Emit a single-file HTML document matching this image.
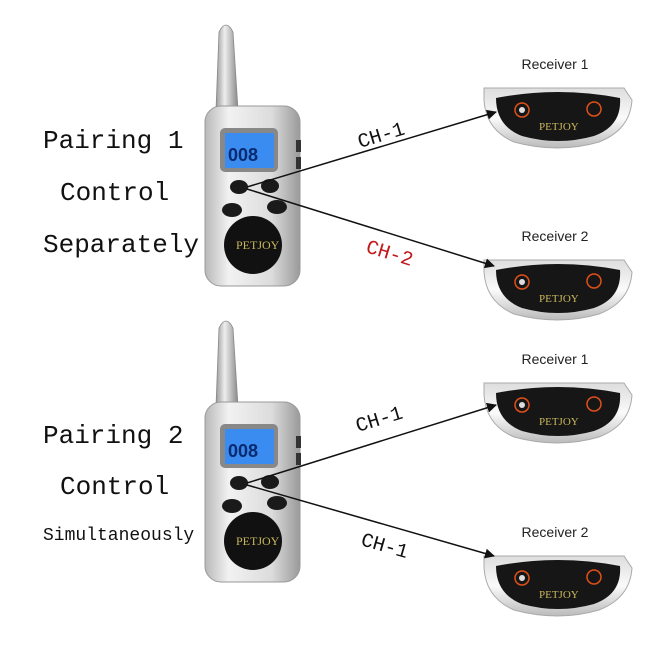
<!DOCTYPE html>
<html><head><style>
html,body{margin:0;padding:0;background:#fff;}
svg{display:block}
.t{font-family:"Liberation Mono",monospace;fill:#111}
.r{font-family:"Liberation Sans",sans-serif;font-size:14px;fill:#222}
</style></head><body>
<svg width="664" height="657" viewBox="0 0 664 657" xmlns="http://www.w3.org/2000/svg">
<defs>
<linearGradient id="silver" x1="0" x2="1" y1="0" y2="0">
<stop offset="0" stop-color="#b8b8b8"/><stop offset="0.25" stop-color="#f2f2f2"/><stop offset="0.7" stop-color="#dcdcdc"/><stop offset="1" stop-color="#9a9a9a"/>
</linearGradient>
<linearGradient id="ant" x1="0" x2="1">
<stop offset="0" stop-color="#999"/><stop offset="0.4" stop-color="#eee"/><stop offset="1" stop-color="#888"/>
</linearGradient>
<linearGradient id="rec" x1="0" x2="0" y1="0" y2="1">
<stop offset="0" stop-color="#ddd"/><stop offset="0.5" stop-color="#fafafa"/><stop offset="1" stop-color="#bbb"/>
</linearGradient>
<marker id="ah" markerWidth="10" markerHeight="10" refX="9" refY="5" orient="auto" markerUnits="userSpaceOnUse">
<path d="M0,0 L10,5 L0,10 z" fill="#111"/></marker>
<g id="remote">
<path d="M216,110 L219,32 Q226,18 233,32 L238,110 z" fill="url(#ant)" stroke="#888" stroke-width="0.8"/>
<rect x="205" y="106" width="95" height="180" rx="16" fill="url(#silver)" stroke="#999"/>
<rect x="296" y="140" width="5" height="12" fill="#333"/><rect x="296" y="157" width="5" height="12" fill="#333"/>
<rect x="220" y="128" width="58" height="44" rx="5" fill="#888"/>
<rect x="225" y="133" width="49" height="35" fill="#3a8cf0"/>
<text x="228" y="161" font-family="Liberation Sans,sans-serif" font-size="18" font-weight="bold" fill="#0a2a70">008</text>
<ellipse cx="239" cy="187" rx="9" ry="7" fill="#1a1a1a"/>
<ellipse cx="270" cy="186" rx="9" ry="7" fill="#1a1a1a"/>
<ellipse cx="232" cy="210" rx="10" ry="7" fill="#1a1a1a"/>
<ellipse cx="277" cy="207" rx="10" ry="7" fill="#1a1a1a"/>
<circle cx="253" cy="245" r="29" fill="#111"/>
<text x="236" y="249" font-family="Liberation Serif,serif" font-size="12" fill="#c9b75a">PETJOY</text>
</g>
<g id="receiver">
<path d="M0,8 L140,8 L148,20 Q146,50 115,62 Q74,74 30,62 Q2,50 0,20 z" fill="url(#rec)" stroke="#aaa"/>
<path d="M12,18 Q74,6 136,18 Q138,46 110,56 Q74,66 38,56 Q12,46 12,18 z" fill="#161616"/>
<circle cx="38" cy="30" r="7" fill="none" stroke="#e0501a" stroke-width="1.5"/><circle cx="38" cy="30" r="3" fill="#ddd"/>
<circle cx="110" cy="29" r="7" fill="none" stroke="#e0501a" stroke-width="1.5"/>
<text x="55" y="50" font-family="Liberation Serif,serif" font-size="11" fill="#c9b75a">PETJOY</text>
</g>
</defs>
<use href="#remote"/>
<use href="#remote" y="296"/>
<use href="#receiver" x="484" y="80"/>
<use href="#receiver" x="484" y="252"/>
<use href="#receiver" x="484" y="375"/>
<use href="#receiver" x="484" y="548"/>
<text class="r" x="555" y="69" text-anchor="middle">Receiver 1</text>
<text class="r" x="555" y="241" text-anchor="middle">Receiver 2</text>
<text class="r" x="555" y="364" text-anchor="middle">Receiver 1</text>
<text class="r" x="555" y="537" text-anchor="middle">Receiver 2</text>
<g stroke="#111" stroke-width="1.5" marker-end="url(#ah)">
<line x1="247" y1="187" x2="496" y2="112"/>
<line x1="247" y1="189" x2="494" y2="266"/>
<line x1="247" y1="483" x2="496" y2="405"/>
<line x1="247" y1="485" x2="494" y2="556"/>
</g>
<text class="t" x="43" y="148" font-size="26">Pairing 1</text>
<text class="t" x="60" y="200" font-size="26">Control</text>
<text class="t" x="43" y="252" font-size="26">Separately</text>
<text class="t" x="43" y="443" font-size="26">Pairing 2</text>
<text class="t" x="60" y="494" font-size="26">Control</text>
<text class="t" x="43" y="540" font-size="18">Simultaneously</text>
<text class="t" x="360" y="148" font-size="20" transform="rotate(-17 360 148)">CH-1</text>
<text class="t" x="365" y="252" font-size="20" fill="#c0171b" style="fill:#c0171b" transform="rotate(17 365 252)">CH-2</text>
<text class="t" x="358" y="432" font-size="20" transform="rotate(-17 358 432)">CH-1</text>
<text class="t" x="360" y="545" font-size="20" transform="rotate(16 360 545)">CH-1</text>
</svg>
</body></html>
